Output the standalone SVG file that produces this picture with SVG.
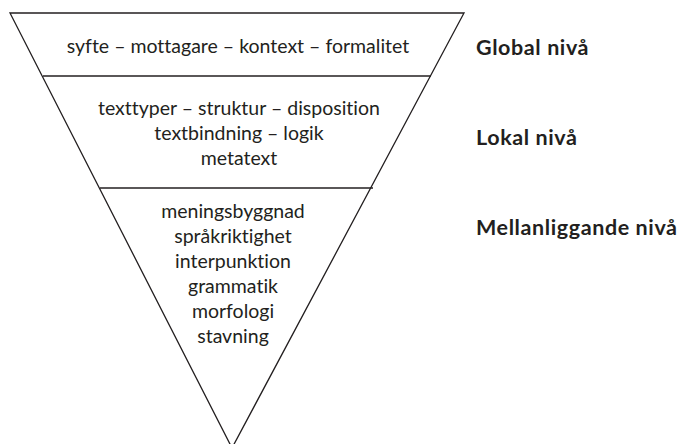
<svg xmlns="http://www.w3.org/2000/svg" width="681" height="444" viewBox="0 0 681 444">
<style>
.t{font-family:Lato,"Open Sans",sans-serif;font-size:19.5px;fill:#231f20;text-anchor:middle;font-variant-ligatures:none}
.l{font-family:Lato,"Open Sans",sans-serif;font-size:21.5px;font-weight:bold;fill:#231f20;letter-spacing:0.6px;font-variant-ligatures:none}
.s{fill:none;stroke:#231f20;stroke-width:1.3}
</style>
<rect width="681" height="444" fill="#fff"/>
<g id="connectors">
<polygon class="s" points="10,13 464,13 232,448"/>
<line class="s" x1="43" y1="76" x2="431" y2="76"/>
<line class="s" x1="100" y1="188" x2="373" y2="188"/>
</g>
<g id="global">
<text class="t" x="238" y="53">syfte – mottagare – kontext – formalitet</text>
</g>
<g id="lokal">
<text class="t" x="239" y="115">texttyper – struktur – disposition</text>
<text class="t" x="239" y="140">textbindning – logik</text>
<text class="t" x="239" y="165">metatext</text>
</g>
<g id="mellan">
<text class="t" x="233" y="218">meningsbyggnad</text>
<text class="t" x="233" y="243">språkriktighet</text>
<text class="t" x="233" y="268">interpunktion</text>
<text class="t" x="233" y="293">grammatik</text>
<text class="t" x="233" y="318">morfologi</text>
<text class="t" x="233" y="343">stavning</text>
</g>
<g id="labels">
<text class="l" x="476" y="55">Global nivå</text>
<text class="l" x="476" y="145">Lokal nivå</text>
<text class="l" x="476" y="235">Mellanliggande nivå</text>
</g>
</svg>
